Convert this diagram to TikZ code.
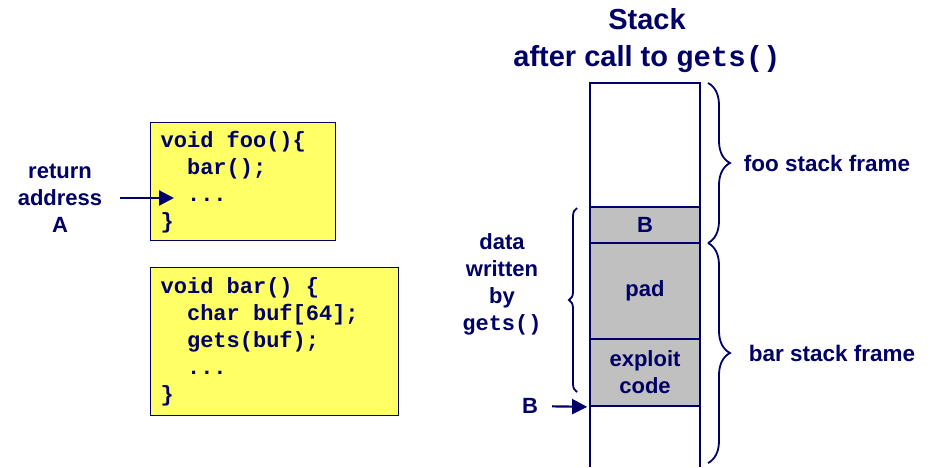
\documentclass[tikz,border=0pt]{standalone}
\usepackage{fontspec}
\setmainfont{Liberation Sans}
\setmonofont{Liberation Mono}
\usetikzlibrary{arrows.meta,decorations.pathreplacing}
\definecolor{navy}{RGB}{0,0,102}
\definecolor{codeyellow}{RGB}{255,255,102}
\definecolor{cellgray}{RGB}{192,192,192}
\newcommand{\ind}{\hphantom{xx}}
\newcommand{\csp}{\hphantom{x}}
\begin{document}
\begin{tikzpicture}[x=1pt,y=-1pt,
    lbl/.style={text=navy,font=\fontsize{22}{27}\selectfont\bfseries,align=center,inner sep=0pt},
    code/.style={draw=navy,line width=1.3pt,fill=codeyellow,anchor=north west,align=left,
      text=navy,font=\fontsize{22}{27}\selectfont\ttfamily\bfseries,inner xsep=10pt,inner ysep=0pt},
    cell/.style={draw=navy,line width=1.8pt,fill=cellgray,minimum width=110pt,inner sep=0pt,
      text=navy,font=\fontsize{22}{27}\selectfont\bfseries,align=center},
    ptr/.style={navy,line width=2.2pt,-{Triangle[length=15pt,width=15pt]}},
    brc/.style={navy,line width=1.8pt,decorate,decoration={brace,amplitude=#1}}]
  \useasboundingbox (0,0) rectangle (938,467);
  \draw
    (647,41) node[lbl,font=\fontsize{29}{37}\selectfont\bfseries] (title){Stack\\after call to \texttt{gets()}}
    (150,122) node[code,text width=165pt,minimum height=118pt] (foobox){void\csp foo()\{\\\ind bar();\\\ind ...\\\}}
    (150,267) node[code,text width=228pt,minimum height=148pt] (barbox){void\csp bar()\csp\{\\\ind char\csp buf[64];\\\ind gets(buf);\\\ind ...\\\}}
    (60,198) node[lbl] (retlbl){return\\address\\A}
    (502,284) node[lbl] (datalbl){data\\written\\by\\\ttfamily gets()}
    (530,406) node[lbl] (Blbl){B};
  \draw[navy,line width=1.8pt] (590,467) -- (590,83) -- (700,83) -- (700,467);
  \draw
    (645,225) node[cell,minimum height=36pt] (Bcell){B}
    (645,291) node[cell,minimum height=96pt] (padcell){pad}
    (645,372.5) node[cell,minimum height=67pt] (codecell){exploit\\code};
  \coordinate (retA) at (174,198);
  \coordinate (footop) at (708,83);
  \coordinate (foobot) at (708,243);
  \coordinate (barbot) at (708,463);
  \coordinate (datatop) at (577,208);
  \coordinate (databot) at (577,392);
  \begin{scope}
    \draw[ptr,shorten <=18pt] (retlbl) to (retA);
    \draw[ptr,shorten <=14pt,shorten >=2pt] (Blbl) to (codecell.south west);
    \draw[brc=22pt] (footop) to node[lbl,anchor=west,xshift=35pt,font=\fontsize{22.5}{27}\selectfont\bfseries] (foolbl){foo stack frame} (foobot);
    \draw[brc=22pt] (foobot) to node[lbl,anchor=west,xshift=40pt,font=\fontsize{22.5}{27}\selectfont\bfseries] (barlbl){bar stack frame} (barbot);
    \draw[brc=8pt] (databot) to (datatop);
  \end{scope}
\end{tikzpicture}
\end{document}
